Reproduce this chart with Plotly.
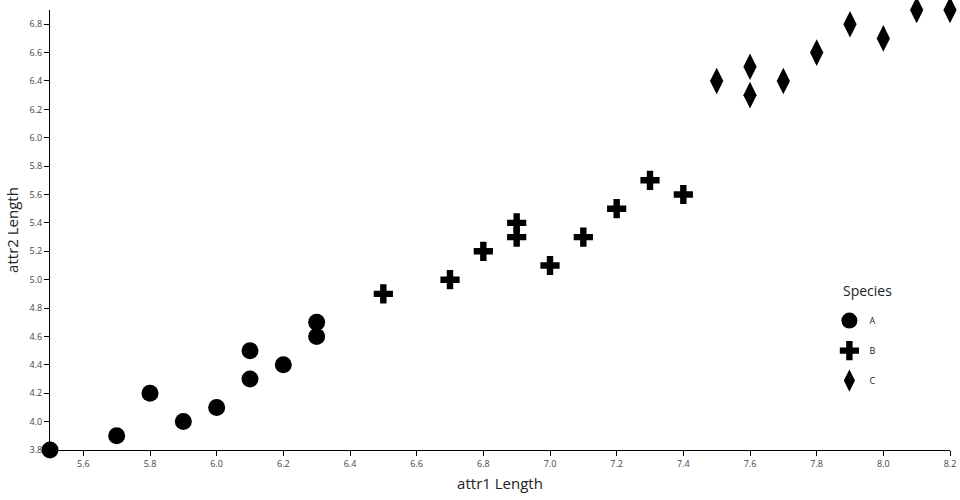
import plotly.graph_objects as go

species = ["A", "B", "C"]
a_x = [5.5, 5.7, 5.8, 5.9, 6.0, 6.1, 6.1, 6.2, 6.3, 6.3]
a_y = [3.8, 3.9, 4.2, 4.0, 4.1, 4.5, 4.3, 4.4, 4.7, 4.6]
b_x = [6.5, 6.7, 6.8, 6.9, 6.9, 7.0, 7.1, 7.2, 7.3, 7.4]
b_y = [4.9, 5.0, 5.2, 5.4, 5.3, 5.1, 5.3, 5.5, 5.7, 5.6]
c_x = [7.5, 7.6, 7.6, 7.7, 7.8, 7.9, 8.0, 8.1, 8.2]
c_y = [6.4, 6.5, 6.3, 6.4, 6.6, 6.8, 6.7, 6.9, 6.9]
x_ticks = [5.6, 5.8, 6.0, 6.2, 6.4, 6.6, 6.8, 7.0, 7.2, 7.4, 7.6, 7.8, 8.0, 8.2]
y_ticks = [3.8, 4.0, 4.2, 4.4, 4.6, 4.8, 5.0, 5.2, 5.4, 5.6, 5.8, 6.0, 6.2, 6.4, 6.6, 6.8]

series = [(a_x, a_y, "circle", 17), (b_x, b_y, "cross", 16), (c_x, c_y, "diamond-tall", 19)]

fig = go.Figure()
for name, (xs, ys, sym, sz) in zip(species, series):
    fig.add_trace(go.Scatter(
        x=xs, y=ys, mode="markers", name=name, legendgroup=name,
        marker=dict(symbol=sym, size=sz, color="black", line=dict(width=0)),
        cliponaxis=False,
    ))

axis_common = dict(
    showgrid=False, zeroline=False, showline=True, linecolor="black", linewidth=1,
    ticks="outside", ticklen=5, tickcolor="black", tickwidth=1,
    tickfont=dict(size=9, color="#444", family="Open Sans"),
    automargin=False,
)

fig.update_layout(
    width=960, height=500,
    margin=dict(l=50, r=10, t=10, b=50),
    paper_bgcolor="white", plot_bgcolor="white",
    font=dict(family="Open Sans", color="#222"),
    xaxis=dict(range=[5.5, 8.2], tickvals=x_ticks, ticktext=[f"{v:.1f}" for v in x_ticks],
               title=dict(text="attr1 Length", font=dict(size=15), standoff=9), **axis_common),
    yaxis=dict(range=[3.8, 6.9], tickvals=y_ticks, ticktext=[f"{v:.1f}" for v in y_ticks],
               title=dict(text="attr2 Length", font=dict(size=15), standoff=7), **axis_common),
    legend=dict(
        font=dict(size=9, color="#222"),
        x=0.866, y=0.327, xanchor="left", yanchor="top",
        bgcolor="rgba(0,0,0,0)", tracegroupgap=11,
    ),
    annotations=[dict(
        text="Species", xref="paper", yref="paper", x=(867 - 50) / 900, y=(450 - 290) / 440,
        xanchor="center", yanchor="middle", showarrow=False,
        font=dict(size=14, color="#222"),
    )],
)

fig.write_html("out.html", config={"displayModeBar": False},
               post_script="document.body.style.margin='0px';")
